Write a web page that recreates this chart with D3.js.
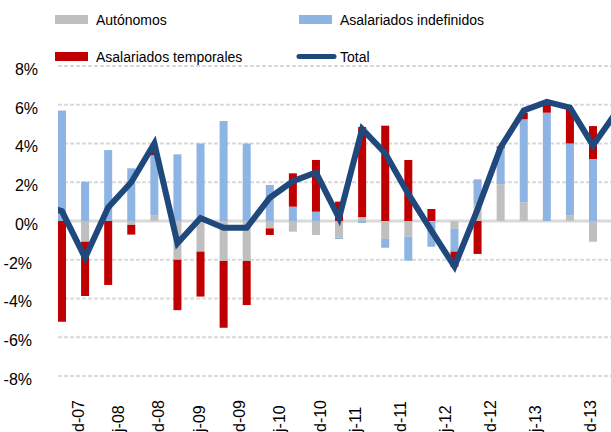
<!DOCTYPE html>
<html>
<head>
<meta charset="utf-8">
<script src="https://cdn.jsdelivr.net/npm/d3@7"></script>
<style>
  html, body { margin: 0; padding: 0; background: #fff; }
  svg { display: block; font-family: "Liberation Sans", Arial, Helvetica, sans-serif; }
</style>
</head>
<body>
<svg id="chart" width="611" height="432"></svg>
<script>
// ---- data ----
const quarters = ["IV-07","I-08","II-08","III-08","IV-08","I-09","II-09","III-09","IV-09","I-10","II-10","III-10",
                  "IV-10","I-11","II-11","III-11","IV-11","I-12","II-12","III-12","IV-12","I-13","II-13","III-13"];
const autonomos   = [0, -1.07, 0, -0.2, 0.3, -2.0, -1.58, -2.06, -2.06, -0.38, -0.55, -0.72,
                     -0.85, 0.2, -0.93, -0.8, -0.05, -0.4, 0.88, 1.9, 0.96, 0, 0.3, -1.07];
const indefinidos = [5.7, 2.03, 3.66, 2.72, 3.1, 3.44, 4.0, 5.16, 4.0, 1.86, 0.74, 0.48,
                     -0.08, -0.1, -0.45, -1.25, -1.28, -1.18, 1.27, 1.85, 4.29, 5.59, 3.7, 3.2];
const temporales  = [-5.2, -2.8, -3.3, -0.5, 0.3, -2.6, -2.32, -3.45, -2.28, -0.34, 1.72, 2.67,
                     1.0, 4.65, 4.92, 3.15, 0.62, -0.78, -1.7, 0.1, 0.34, 0.48, 1.82, 1.7];
const total       = [0.5, -1.9, 0.7, 2.0, 4.0, -1.15, 0.15, -0.35, -0.35, 1.2, 2.05, 2.5,
                     0.15, 4.75, 3.5, 1.4, -0.5, -2.35, 0.6, 3.8, 5.7, 6.15, 5.85, 3.9];
const totalPrev = 0.9;   // quarter before the first one (clipped at the left edge)
const totalNext = 5.6;   // quarter after the last one (clipped at the right edge)
const yTicks = [-8, -6, -4, -2, 0, 2, 4, 6, 8];
const xTickLabels = ["d-07","j-08","d-08","j-09","d-09","j-10","d-10","j-11","d-11","j-12","d-12","j-13","d-13"];
const seriesNames = ["Autónomos", "Asalariados indefinidos", "Asalariados temporales", "Total"];

// ---- layout ----
const W = 611, H = 432;
const plotLeft = 58, plotRight = 625;
const colors = { aut: "#bfbfbf", ind: "#8db4e2", tmp: "#c00000", tot: "#1f497d", grid: "#d9d9d9" };

const svg = d3.select("#chart");

const x = d3.scaleLinear().domain([0, quarters.length - 1]).range([62, 593]);
const y = d3.scaleLinear().domain([-8, 8]).range([376, 66]);
const xl = d3.scaleLinear().domain([0, 6, 7, 11, 12]).range([78, 320, 355, 535, 590]);

svg.append("defs").append("clipPath").attr("id", "plotclip")
  .append("rect").attr("x", plotLeft).attr("y", 0).attr("width", W - plotLeft).attr("height", H);

// gridlines
const grid = svg.append("g");
grid.selectAll("line").data(yTicks).join("line")
  .attr("x1", plotLeft).attr("x2", plotRight)
  .attr("y1", d => y(d)).attr("y2", d => y(d))
  .attr("stroke", colors.grid)
  .attr("stroke-width", d => d === 0 ? 3 : 2)
  .attr("stroke-dasharray", d => d === 0 ? null : "4,2");

// y labels
svg.append("g").selectAll("text").data(yTicks).join("text")
  .attr("x", 38).attr("dx", d => d < 0 ? -6 : 0)
  .attr("y", d => y(d)).attr("dy", "0.55em")
  .attr("text-anchor", "end")
  .attr("font-size", 16).attr("fill", "#000")
  .text(d => d + "%");

// stacked bars
const rows = quarters.map((q, i) => ({ i, aut: autonomos[i], ind: indefinidos[i], tmp: temporales[i] }));
const stack = d3.stack().keys(["aut", "ind", "tmp"]).offset(d3.stackOffsetDiverging);
const layers = stack(rows);
const barW = 8;
const gBars = svg.append("g").attr("clip-path", "url(#plotclip)");
gBars.selectAll("g").data(layers).join("g")
  .attr("fill", d => colors[d.key])
  .selectAll("rect").data(d => d).join("rect")
  .attr("x", d => x(d.data.i) - barW / 2)
  .attr("width", barW)
  .attr("y", d => y(Math.max(d[0], d[1])))
  .attr("height", d => Math.abs(y(d[0]) - y(d[1])));

// total line
const linePts = [{ i: -1, v: totalPrev }]
  .concat(total.map((v, i) => ({ i, v })))
  .concat([{ i: total.length, v: totalNext }]);
svg.append("g").attr("clip-path", "url(#plotclip)")
  .append("path")
  .datum(linePts)
  .attr("fill", "none")
  .attr("stroke", colors.tot)
  .attr("stroke-width", 6)
  .attr("stroke-linejoin", "miter")
  .attr("d", d3.line().x(d => x(d.i)).y(d => y(d.v)));

// x labels (rotated)
svg.append("g").selectAll("text").data(xTickLabels).join("text")
  .attr("transform", (d, i) => `translate(${xl(i)},432) rotate(-90)`)
  .attr("dy", "0.35em")
  .attr("text-anchor", "start")
  .attr("font-size", 16).attr("fill", "#000")
  .text(d => d);

// legend
const leg = svg.append("g").attr("font-size", 14).attr("fill", "#000");
const legItems = [
  { name: seriesNames[0], key: "aut", x: 55, y: 15, type: "rect" },
  { name: seriesNames[1], key: "ind", x: 299, y: 15, type: "rect" },
  { name: seriesNames[2], key: "tmp", x: 55, y: 52, type: "rect" },
  { name: seriesNames[3], key: "tot", x: 299, y: 52, type: "line" }
];
legItems.forEach(it => {
  if (it.type === "rect") {
    leg.append("rect").attr("x", it.x).attr("y", it.y).attr("width", 33).attr("height", 9).attr("fill", colors[it.key]);
  } else {
    leg.append("line").attr("x1", it.x).attr("x2", it.x + 35).attr("y1", it.y + 4.5).attr("y2", it.y + 4.5)
      .attr("stroke", colors[it.key]).attr("stroke-width", 5).attr("stroke-linecap", "round");
  }
  leg.append("text").attr("x", it.x + 41).attr("y", it.y + 10).text(it.name);
});
</script>
</body>
</html>
